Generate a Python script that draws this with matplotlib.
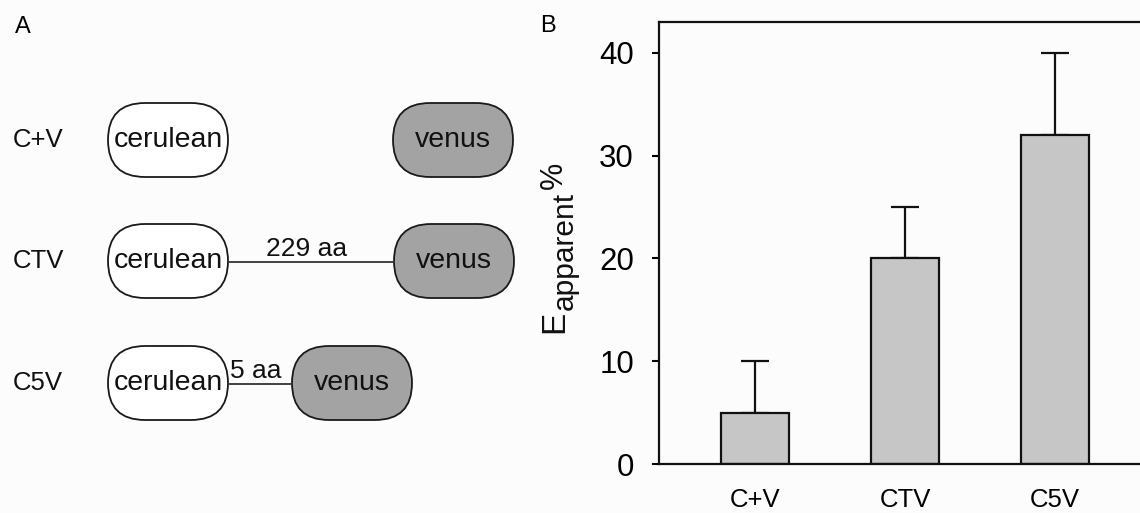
import matplotlib.pyplot as plt
from matplotlib.patches import FancyBboxPatch

plt.rcParams['font.family'] = ['Liberation Sans', 'DejaVu Sans']

# data for panel B
constructs = ['C+V', 'CTV', 'C5V']
e_apparent = [5, 20, 32]
e_err = [5, 5, 8]

# panel A: linker between the two fluorophores
linker_labels = [None, '229 aa', '5 aa']

bg = '#fcfcfc'
W, H = 1140, 513
fig = plt.figure(figsize=(W / 100, H / 100), dpi=100, facecolor=bg)

# ---- panel A: schematic, drawn in pixel units ----
axa = fig.add_axes([0, 0, 540 / W, 1])
axa.set_xlim(0, 540)
axa.set_ylim(H, 0)
axa.axis('off')

row_y = [140, 261, 383]
cer_x = [108, 108, 108]
ven_x = [393, 394, 292]
pill_w, pill_h = 120, 74


def pill(ax, x, yc, fc, label):
    p = FancyBboxPatch((x, yc - pill_h / 2), pill_w, pill_h,
                       boxstyle='round,pad=0,rounding_size=37',
                       fc=fc, ec='#1a1a1a', lw=1.3)
    ax.add_patch(p)
    ax.text(x + pill_w / 2, yc, label, ha='center', va='center', fontsize=20.5, color='#111111')


for i, name in enumerate(constructs):
    y = row_y[i]
    axa.text(13, y, name, ha='left', va='center', fontsize=18.5, color='#111111')
    if linker_labels[i] is not None:
        x0 = cer_x[i] + pill_w
        x1 = ven_x[i]
        axa.plot([x0, x1], [y + 1, y + 1], color='#333333', lw=1.3)
        axa.text((x0 + x1) / 2 - 4, y - 5, linker_labels[i], ha='center', va='baseline',
                 fontsize=19, color='#111111')
    pill(axa, cer_x[i], y, 'white', 'cerulean')
    pill(axa, ven_x[i], y, '#a3a3a3', 'venus')

fig.text(23 / W, 1 - 27 / H, 'A', ha='center', va='center', fontsize=17)
fig.text(548 / W, 1 - 26 / H, 'B', ha='center', va='center', fontsize=17)

# ---- panel B: bar chart ----
axb = fig.add_axes([659 / W, 49 / H, 501 / W, 442 / H])
axb.set_facecolor(bg)
x = list(range(len(constructs)))
axb.bar(x, e_apparent, width=0.45, color='#c6c6c6', edgecolor='#111111', lw=1.6, zorder=2)
axb.errorbar(x, e_apparent, yerr=[[0] * len(e_err), e_err], fmt='none',
             ecolor='#111111', elinewidth=1.6, capsize=10, capthick=1.6, zorder=1)

axb.set_xlim(-0.64, 2.7)
axb.set_ylim(0, 43)
axb.set_yticks([0, 10, 20, 30, 40])
axb.set_xticks(x)
axb.set_xticklabels(constructs, fontsize=18.5)
axb.tick_params(axis='x', length=0, pad=17)
axb.tick_params(axis='y', length=5, width=1.5, labelsize=22.5, pad=13, direction='out')
for s in axb.spines.values():
    s.set_linewidth(1.6)
    s.set_color('#111111')

# y label E_apparent% built from three pieces, rotated
lab = dict(rotation=90, rotation_mode='anchor', ha='left', va='baseline', color='#111111')
fig.text(563 / W, 1 - 333 / H, 'E', fontsize=24, **lab)
fig.text(573 / W, 1 - 310 / H, 'apparent', fontsize=21.5, **lab)
fig.text(562 / W, 1 - 189 / H, '%', fontsize=22, **lab)

fig.savefig('out.png', dpi=100, facecolor=bg)
